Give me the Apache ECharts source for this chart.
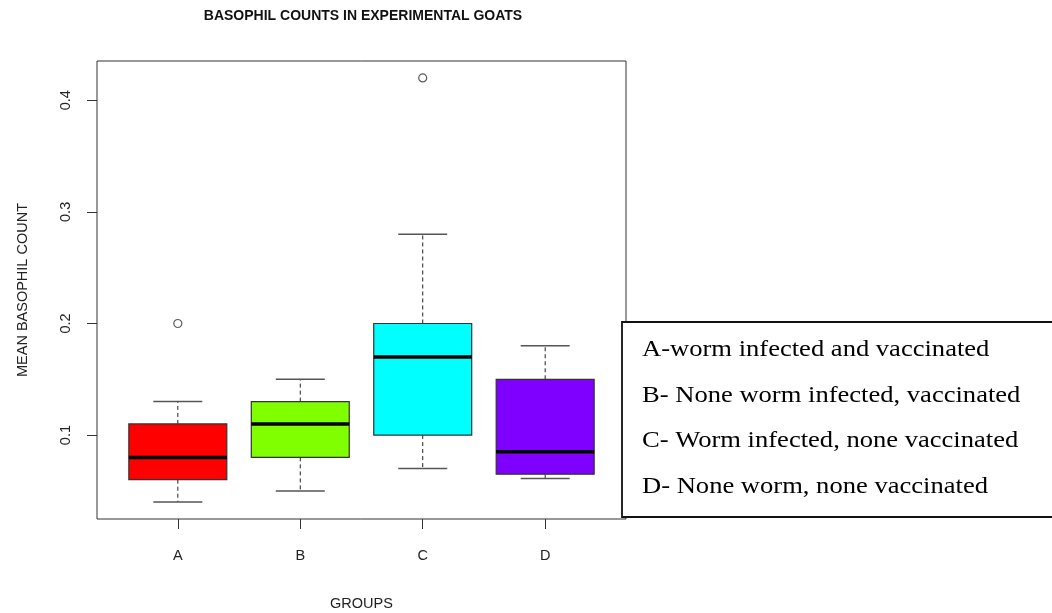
<!DOCTYPE html>
<html>
<head>
<meta charset="utf-8">
<script src="https://cdn.jsdelivr.net/npm/echarts@6/dist/echarts.min.js"></script>
<style>
html,body{margin:0;padding:0;background:#fff;}
#chart{width:1052px;height:613px;}
</style>
</head>
<body>
<div id="chart"></div>
<script>
const categories = ['A', 'B', 'C', 'D'];
const lowWhisker = [0.04, 0.05, 0.07, 0.061];
const q1 = [0.06, 0.08, 0.10, 0.065];
const median = [0.08, 0.11, 0.17, 0.085];
const q3 = [0.11, 0.13, 0.20, 0.15];
const highWhisker = [0.13, 0.15, 0.28, 0.18];
const outlierGroup = ['A', 'C'];
const outlierValue = [0.20, 0.42];
const boxColors = ['#FF0000', '#80FF00', '#00FFFF', '#8000FF'];
const yTicks = [0.1, 0.2, 0.3, 0.4];
const legendLines = [
  'A-worm infected and vaccinated',
  'B- None worm infected, vaccinated',
  'C- Worm infected, none vaccinated',
  'D- None worm, none vaccinated'
];

const boxData = categories.map((c, i) => [i + 1, lowWhisker[i], q1[i], median[i], q3[i], highWhisker[i]]);
const outlierData = outlierGroup.map((g, i) => [categories.indexOf(g) + 1, outlierValue[i]]);
const xPositions = categories.map((c, i) => i + 1);

const chart = echarts.init(document.getElementById('chart'), null, {renderer: 'canvas'});

function renderBox(params, api) {
  const x = api.value(0);
  const low = api.coord([x, api.value(1)]);
  const b1 = api.coord([x, api.value(2)]);
  const med = api.coord([x, api.value(3)]);
  const b3 = api.coord([x, api.value(4)]);
  const high = api.coord([x, api.value(5)]);
  const unit = api.size([1, 0])[0];
  const bw = unit * 0.8;
  const sw = bw * 0.5;
  const cx = low[0];
  const dash = {stroke: '#222', lineWidth: 1, lineDash: [4, 3]};
  const solid = {stroke: '#555', lineWidth: 1.5};
  return {
    type: 'group',
    children: [
      {type: 'line', shape: {x1: cx, y1: b3[1], x2: cx, y2: high[1]}, style: dash},
      {type: 'line', shape: {x1: cx, y1: b1[1], x2: cx, y2: low[1]}, style: dash},
      {type: 'line', shape: {x1: cx - sw / 2, y1: high[1], x2: cx + sw / 2, y2: high[1]}, style: solid},
      {type: 'line', shape: {x1: cx - sw / 2, y1: low[1], x2: cx + sw / 2, y2: low[1]}, style: solid},
      {type: 'rect', shape: {x: cx - bw / 2, y: b3[1], width: bw, height: b1[1] - b3[1]},
        style: {fill: boxColors[params.dataIndex], stroke: '#333', lineWidth: 1.2}},
      {type: 'line', shape: {x1: cx - bw / 2, y1: med[1], x2: cx + bw / 2, y2: med[1]},
        style: {stroke: '#000', lineWidth: 3.5}}
    ]
  };
}

const legendChildren = [
  {type: 'rect', shape: {x: 622, y: 322, width: 440, height: 195},
    style: {fill: '#fff', stroke: '#111', lineWidth: 1.8}}
];
legendLines.forEach((t, i) => {
  legendChildren.push({
    type: 'text', x: 642, y: 350 + i * 45.7, scaleX: 1.155,
    style: {text: t, font: '23px "Liberation Serif", "Times New Roman", serif', fill: '#000',
      textVerticalAlign: 'middle', textAlign: 'left'}
  });
});

const axisFont = '"Liberation Sans", Arial, sans-serif';

chart.setOption({
  animation: false,
  backgroundColor: '#fff',
  title: {
    text: 'BASOPHIL COUNTS IN EXPERIMENTAL GOATS',
    left: 363, top: 9, textAlign: 'center', padding: 0,
    textStyle: {fontFamily: axisFont, fontSize: 14, fontWeight: 'bold', color: '#111'}
  },
  grid: {left: 97, top: 61, width: 529, height: 458, show: true, borderColor: '#333', borderWidth: 1,
    backgroundColor: 'transparent', containLabel: false, outerBoundsMode: 'none'},
  xAxis: {
    type: 'value', min: 0.34, max: 4.66,
    name: 'GROUPS', nameLocation: 'middle', nameGap: 77,
    nameTextStyle: {fontFamily: axisFont, fontSize: 14.5, color: '#222'},
    axisLine: {show: false},
    splitLine: {show: false},
    axisTick: {show: true, customValues: xPositions, length: 10, lineStyle: {color: '#333'}},
    axisLabel: {customValues: xPositions, formatter: v => categories[Math.round(v) - 1] || '',
      margin: 29, fontFamily: axisFont, fontSize: 14.5, color: '#222'}
  },
  yAxis: {
    type: 'value', min: 0.0248, max: 0.4352,
    name: 'MEAN BASOPHIL COUNT', nameLocation: 'middle', nameGap: 67, nameRotate: 90,
    nameTextStyle: {fontFamily: axisFont, fontSize: 14.5, color: '#222'},
    axisLine: {show: false},
    splitLine: {show: false},
    axisTick: {show: true, customValues: yTicks, length: 10, lineStyle: {color: '#333'}},
    axisLabel: {customValues: yTicks, rotate: 90, margin: 24, formatter: v => v.toFixed(1),
      fontFamily: axisFont, fontSize: 14.5, color: '#222'}
  },
  series: [
    {type: 'custom', renderItem: renderBox, data: boxData, encode: {x: 0, y: [1, 2, 3, 4, 5]}, z: 2},
    {type: 'scatter', data: outlierData, symbol: 'circle', symbolSize: 8,
      itemStyle: {color: '#fff', borderColor: '#333', borderWidth: 1.2}, z: 3}
  ],
  graphic: legendChildren
});
</script>
</body>
</html>
